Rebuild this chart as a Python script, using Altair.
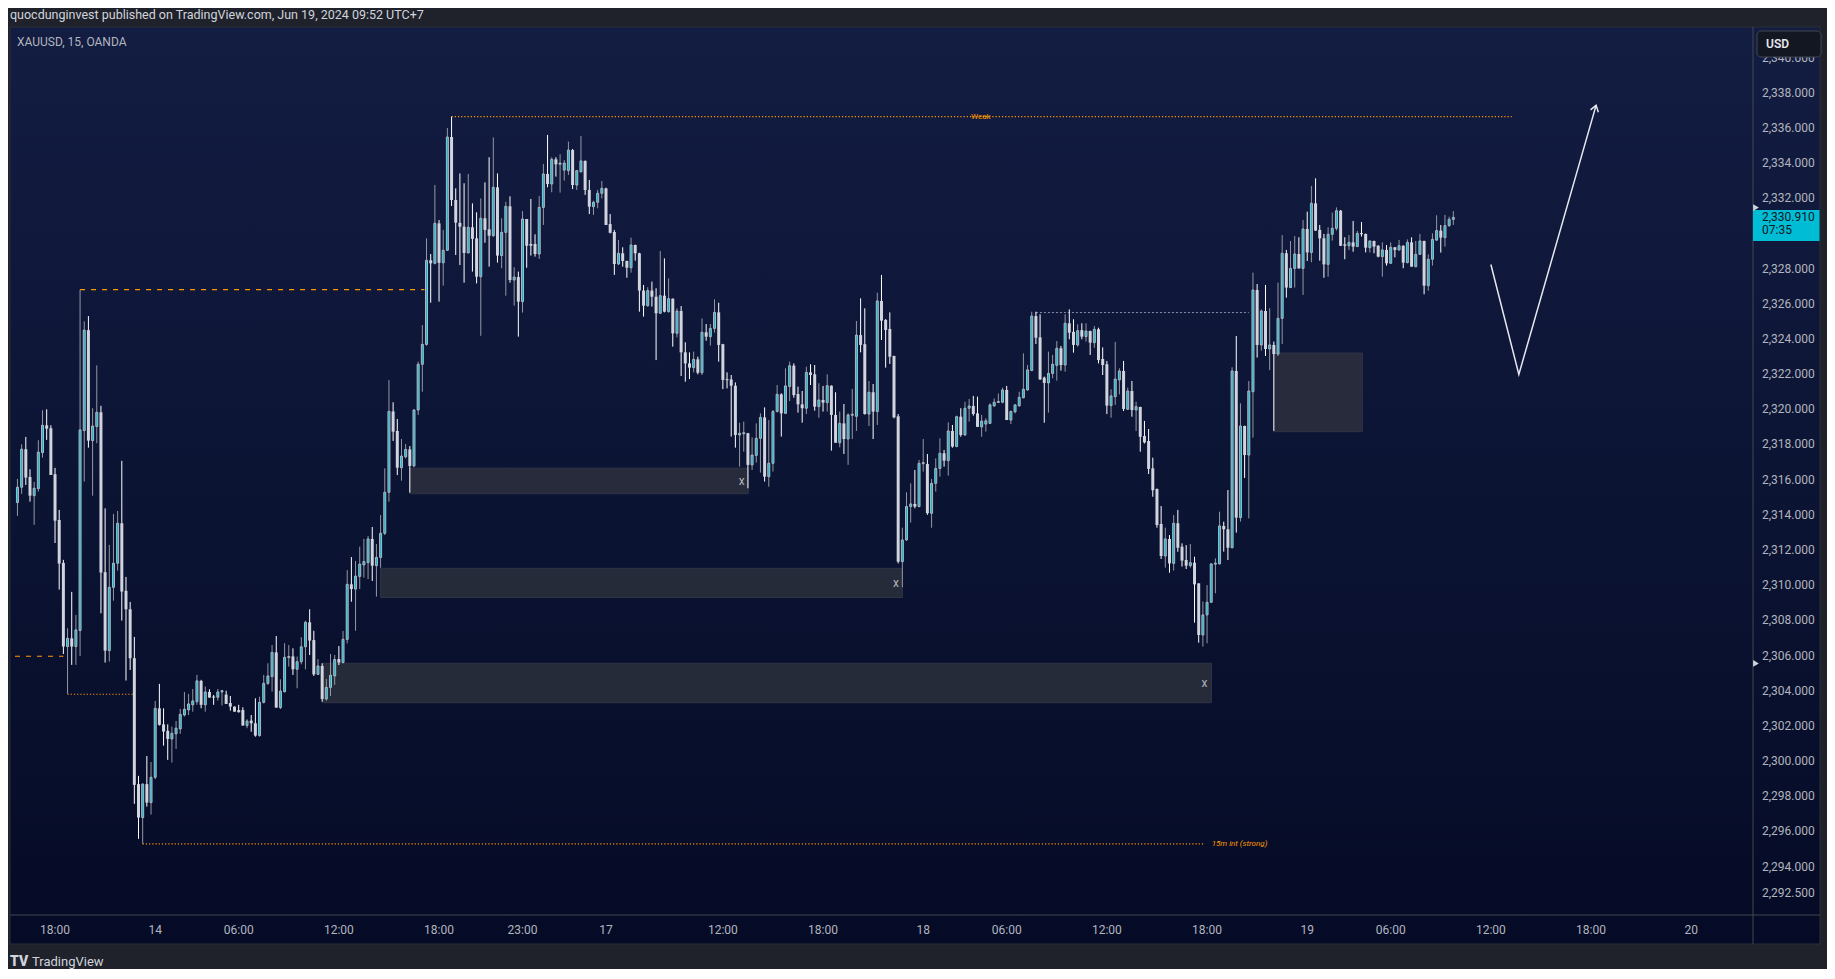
import altair as alt
import pandas as pd

# ---------------- data (15-minute bars, bar 0 = Jun 13 18:00) ----------------
FIRST_BAR = -9

opens = [
    2314.70, 2315.57, 2317.73, 2316.15, 2315.09, 2315.49, 2317.54, 2319.09, 2318.92, 2316.31,
    2313.71, 2311.27, 2306.51, 2306.98, 2306.51, 2307.42, 2318.79, 2324.50, 2318.22, 2319.02,
    2319.83, 2310.74, 2306.28, 2309.88, 2311.25, 2313.52, 2309.68, 2308.63, 2305.85, 2298.69,
    2296.79, 2298.69, 2297.64, 2299.08, 2303.00, 2302.09, 2301.72, 2301.26, 2301.55, 2301.83,
    2302.62, 2302.91, 2303.20, 2303.38, 2304.56, 2303.20, 2303.93, 2303.67, 2303.63, 2303.93,
    2303.78, 2303.30, 2303.10, 2302.90, 2302.90, 2302.02, 2302.30, 2302.15, 2301.45, 2303.34,
    2304.42, 2304.80, 2306.18, 2303.04, 2303.95, 2305.90, 2305.95, 2305.22, 2305.65, 2306.50,
    2307.89, 2306.88, 2304.93, 2305.41, 2303.53, 2304.19, 2304.84, 2305.80, 2305.60, 2306.92,
    2310.05, 2309.78, 2310.50, 2311.15, 2311.28, 2312.63, 2311.11, 2311.58, 2312.95, 2315.28,
    2319.88, 2318.77, 2316.68, 2317.30, 2317.72, 2316.78, 2319.96, 2322.56, 2323.69, 2328.47,
    2328.30, 2330.57, 2328.33, 2329.04, 2335.48, 2331.90, 2330.60, 2330.38, 2328.89, 2330.35,
    2329.72, 2327.54, 2330.86, 2330.23, 2329.87, 2332.62, 2328.74, 2330.06, 2331.54, 2327.35,
    2327.52, 2326.12, 2330.82, 2329.40, 2329.40, 2328.83, 2331.48, 2333.38, 2332.81, 2334.21,
    2333.93, 2333.60, 2333.57, 2334.74, 2332.75, 2333.50, 2334.12, 2332.47, 2331.52, 2331.77,
    2332.28, 2332.56, 2330.53, 2330.08, 2328.26, 2328.87, 2328.43, 2328.05, 2329.34, 2328.87,
    2326.75, 2325.89, 2326.75, 2326.40, 2325.46, 2326.46, 2325.55, 2326.29, 2324.32, 2325.59,
    2323.24, 2322.61, 2322.37, 2322.84, 2322.08, 2324.38, 2324.13, 2324.60, 2325.51, 2323.70,
    2321.70, 2321.70, 2321.34, 2318.54, 2318.64, 2318.64, 2316.84, 2317.38, 2318.35, 2319.54,
    2316.17, 2316.93, 2319.87, 2320.85, 2319.77, 2321.30, 2322.48, 2320.87, 2320.28, 2320.06,
    2322.10, 2321.99, 2320.15, 2320.53, 2320.38, 2321.34, 2319.68, 2318.10, 2319.20, 2318.31,
    2319.68, 2319.60, 2324.22, 2323.70, 2319.73, 2320.97, 2319.87, 2326.16, 2325.08, 2324.57,
    2323.03, 2319.60, 2311.34, 2312.57, 2314.47, 2314.62, 2314.47, 2316.93, 2316.89, 2314.09,
    2315.79, 2316.64, 2317.50, 2317.08, 2318.77, 2317.88, 2319.58, 2318.54, 2320.06, 2320.19,
    2319.77, 2319.00, 2319.16, 2319.20, 2320.19, 2320.40, 2320.40, 2321.10, 2319.39, 2319.86,
    2320.20, 2320.66, 2321.10, 2322.20, 2325.30, 2324.09, 2321.80, 2321.50, 2322.04, 2322.50,
    2323.47, 2322.52, 2324.89, 2324.40, 2323.66, 2324.50, 2324.13, 2324.45, 2323.79, 2324.55,
    2322.86, 2322.56, 2320.21, 2320.72, 2321.67, 2322.18, 2320.00, 2321.04, 2319.96, 2320.13,
    2318.48, 2318.20, 2316.64, 2315.47, 2313.48, 2311.66, 2312.63, 2311.24, 2313.52, 2312.19,
    2311.43, 2311.11, 2311.28, 2310.10, 2307.17, 2308.31, 2309.03, 2311.21, 2311.21, 2313.37,
    2313.18, 2312.13, 2322.18, 2313.84, 2319.05, 2317.40, 2321.00, 2326.78, 2323.66, 2325.59,
    2323.43, 2323.66, 2323.14, 2325.17, 2328.87, 2326.92, 2328.01, 2328.83, 2328.01, 2330.25,
    2328.92, 2331.71, 2330.20, 2329.72, 2328.24, 2329.95, 2330.29, 2331.29, 2329.38, 2329.30,
    2329.49, 2329.25, 2330.00, 2329.97, 2329.19, 2329.57, 2329.30, 2328.68, 2329.06, 2328.30,
    2329.21, 2329.06, 2329.30, 2328.34, 2329.49, 2328.11, 2328.81, 2329.57, 2327.03, 2328.53,
    2329.62, 2330.16, 2329.76, 2330.44, 2330.80,
]

highs = [
    2316.04, 2318.01, 2318.43, 2316.59, 2315.87, 2318.24, 2319.95, 2320.00, 2319.09, 2316.67,
    2314.28, 2311.44, 2307.55, 2309.62, 2308.31, 2326.80, 2325.00, 2325.30, 2320.06, 2322.50,
    2320.20, 2314.37, 2312.29, 2314.05, 2314.22, 2317.07, 2310.47, 2309.05, 2307.06, 2299.16,
    2298.74, 2300.29, 2299.95, 2303.42, 2304.39, 2303.00, 2302.09, 2301.96, 2302.28, 2302.97,
    2303.93, 2303.82, 2304.10, 2304.90, 2304.62, 2304.24, 2304.08, 2303.76, 2304.10, 2304.05,
    2304.00, 2303.70, 2303.10, 2303.20, 2303.06, 2302.38, 2302.62, 2303.57, 2303.66, 2304.90,
    2305.56, 2306.60, 2307.11, 2304.65, 2306.70, 2306.60, 2306.41, 2305.94, 2307.04, 2307.98,
    2308.63, 2307.41, 2305.80, 2305.56, 2304.67, 2306.09, 2306.03, 2306.54, 2307.40, 2310.86,
    2311.60, 2311.38, 2312.19, 2312.63, 2312.80, 2313.31, 2312.34, 2313.99, 2316.64, 2321.66,
    2320.40, 2319.45, 2318.31, 2318.03, 2317.91, 2320.00, 2322.71, 2324.79, 2329.72, 2328.83,
    2332.75, 2330.76, 2330.20, 2335.99, 2336.64, 2332.56, 2333.41, 2332.85, 2333.38, 2331.71,
    2331.20, 2331.99, 2332.90, 2334.33, 2335.46, 2333.41, 2330.86, 2331.80, 2332.11, 2328.07,
    2327.83, 2331.27, 2330.82, 2331.96, 2329.95, 2332.13, 2333.95, 2335.60, 2334.33, 2334.33,
    2334.50, 2334.17, 2335.22, 2334.80, 2333.60, 2335.54, 2334.15, 2333.04, 2331.86, 2332.47,
    2332.98, 2332.60, 2331.10, 2330.20, 2329.63, 2329.21, 2328.45, 2329.76, 2329.36, 2328.90,
    2327.07, 2326.94, 2327.26, 2326.88, 2329.00, 2328.58, 2327.45, 2326.30, 2325.74, 2325.87,
    2323.81, 2323.24, 2323.28, 2322.99, 2325.17, 2324.85, 2324.85, 2326.25, 2326.06, 2323.72,
    2322.10, 2321.95, 2321.53, 2319.24, 2319.30, 2318.66, 2318.41, 2319.20, 2319.77, 2320.11,
    2319.39, 2319.96, 2321.38, 2320.91, 2322.33, 2322.71, 2322.61, 2321.29, 2321.04, 2322.42,
    2322.56, 2322.52, 2321.48, 2321.33, 2321.99, 2321.36, 2320.97, 2319.87, 2320.30, 2319.77,
    2321.16, 2325.02, 2326.31, 2325.74, 2321.61, 2321.44, 2326.63, 2327.64, 2325.13, 2325.51,
    2323.05, 2319.73, 2313.27, 2315.28, 2315.79, 2316.55, 2317.12, 2318.31, 2317.46, 2316.04,
    2317.21, 2318.35, 2317.69, 2319.26, 2319.11, 2319.64, 2320.06, 2320.43, 2320.59, 2320.76,
    2320.72, 2319.68, 2319.49, 2320.34, 2320.62, 2320.90, 2321.23, 2321.33, 2319.92, 2320.30,
    2321.00, 2323.18, 2322.52, 2325.55, 2325.55, 2325.40, 2321.86, 2323.28, 2323.09, 2323.88,
    2323.60, 2325.40, 2325.68, 2325.12, 2324.83, 2324.89, 2324.89, 2324.47, 2324.74, 2324.64,
    2323.52, 2322.75, 2321.14, 2323.83, 2322.33, 2322.75, 2321.23, 2321.61, 2320.43, 2320.15,
    2319.34, 2318.88, 2317.25, 2315.50, 2314.50, 2313.27, 2312.85, 2313.99, 2314.28, 2312.38,
    2312.28, 2312.34, 2311.62, 2310.12, 2309.07, 2310.01, 2311.24, 2311.53, 2314.18, 2313.61,
    2315.41, 2322.39, 2324.17, 2320.34, 2319.07, 2321.61, 2327.77, 2327.12, 2325.68, 2327.07,
    2325.74, 2323.85, 2327.20, 2329.91, 2329.06, 2329.57, 2329.85, 2329.78, 2330.76, 2331.24,
    2332.70, 2333.13, 2330.48, 2329.97, 2330.35, 2331.18, 2331.48, 2331.33, 2329.78, 2329.91,
    2330.71, 2330.14, 2330.65, 2329.99, 2329.60, 2329.59, 2329.33, 2329.49, 2329.34, 2329.49,
    2329.23, 2329.63, 2329.32, 2329.66, 2329.78, 2329.57, 2329.97, 2329.59, 2328.81, 2330.00,
    2331.03, 2330.48, 2331.05, 2330.95, 2331.27,
]

lows = [
    2313.94, 2315.19, 2315.70, 2314.75, 2313.43, 2315.32, 2317.25, 2318.26, 2316.27, 2312.40,
    2309.75, 2306.09, 2303.82, 2305.47, 2305.47, 2305.98, 2315.89, 2317.82, 2315.09, 2318.07,
    2308.40, 2305.60, 2305.66, 2309.12, 2310.83, 2307.99, 2304.58, 2305.18, 2297.57, 2295.58,
    2295.29, 2297.41, 2296.96, 2298.97, 2302.02, 2300.88, 2300.07, 2299.92, 2300.69, 2301.55,
    2302.53, 2302.62, 2302.81, 2303.20, 2303.00, 2302.81, 2303.61, 2303.20, 2303.44, 2303.16,
    2303.25, 2302.87, 2302.81, 2302.76, 2302.02, 2301.87, 2301.67, 2301.39, 2301.39, 2303.28,
    2304.33, 2303.95, 2303.04, 2302.96, 2303.89, 2305.37, 2304.90, 2304.14, 2305.50, 2305.22,
    2306.03, 2304.84, 2304.90, 2303.38, 2303.43, 2303.70, 2304.33, 2305.46, 2305.56, 2306.69,
    2309.06, 2307.41, 2309.78, 2310.43, 2310.35, 2310.24, 2309.35, 2310.99, 2312.85, 2314.75,
    2318.20, 2316.26, 2315.94, 2317.21, 2315.26, 2316.70, 2319.68, 2321.00, 2323.62, 2326.06,
    2328.24, 2326.12, 2327.03, 2329.00, 2331.56, 2328.77, 2328.20, 2327.20, 2328.87, 2327.83,
    2327.16, 2324.18, 2329.47, 2328.11, 2329.80, 2328.34, 2328.02, 2326.46, 2327.20, 2325.89,
    2324.13, 2325.50, 2328.05, 2328.74, 2328.68, 2328.55, 2330.48, 2332.62, 2332.34, 2333.23,
    2332.32, 2333.00, 2333.32, 2332.52, 2332.47, 2333.47, 2332.19, 2331.10, 2331.05, 2331.43,
    2331.99, 2330.48, 2330.00, 2327.64, 2328.20, 2328.11, 2327.48, 2327.77, 2328.45, 2325.55,
    2325.27, 2325.84, 2325.84, 2322.80, 2325.42, 2325.51, 2325.50, 2323.56, 2324.09, 2321.89,
    2321.57, 2321.72, 2322.10, 2321.99, 2321.95, 2323.90, 2323.62, 2324.36, 2322.71, 2321.15,
    2321.19, 2318.45, 2317.82, 2316.74, 2317.59, 2315.51, 2316.55, 2316.97, 2316.40, 2315.89,
    2315.60, 2316.46, 2319.83, 2318.45, 2319.73, 2320.47, 2320.66, 2319.81, 2319.24, 2319.73,
    2321.38, 2319.92, 2319.52, 2319.87, 2319.87, 2317.65, 2318.10, 2317.84, 2317.46, 2316.84,
    2318.31, 2318.77, 2323.24, 2319.70, 2319.05, 2318.31, 2319.11, 2323.94, 2322.37, 2322.58,
    2319.49, 2311.24, 2309.88, 2312.53, 2313.56, 2314.37, 2314.43, 2316.46, 2314.00, 2313.27,
    2315.32, 2316.17, 2316.74, 2316.23, 2317.82, 2317.85, 2318.44, 2318.50, 2319.30, 2319.64,
    2319.00, 2318.44, 2318.73, 2319.16, 2320.15, 2320.38, 2320.34, 2319.39, 2319.16, 2319.77,
    2320.15, 2320.62, 2321.06, 2322.18, 2323.71, 2321.67, 2319.24, 2319.81, 2321.76, 2321.63,
    2322.20, 2322.14, 2323.98, 2323.22, 2323.56, 2323.98, 2323.85, 2323.09, 2323.50, 2322.61,
    2321.95, 2319.73, 2319.52, 2320.25, 2320.85, 2319.90, 2319.96, 2319.58, 2318.77, 2317.59,
    2318.06, 2316.32, 2315.03, 2313.27, 2311.49, 2311.00, 2310.71, 2310.83, 2311.90, 2311.06,
    2310.92, 2311.00, 2307.87, 2306.73, 2306.51, 2306.70, 2309.00, 2309.54, 2311.19, 2311.91,
    2311.43, 2312.10, 2312.99, 2313.61, 2316.10, 2313.80, 2318.39, 2322.94, 2323.33, 2323.03,
    2322.23, 2318.77, 2323.03, 2323.71, 2326.35, 2326.90, 2326.92, 2328.00, 2326.50, 2328.43,
    2328.36, 2330.14, 2328.45, 2327.48, 2327.54, 2329.59, 2330.16, 2329.28, 2328.53, 2329.06,
    2328.96, 2329.23, 2329.82, 2328.92, 2328.92, 2328.87, 2328.64, 2327.54, 2328.17, 2328.28,
    2328.64, 2329.02, 2328.02, 2328.30, 2328.11, 2328.07, 2328.78, 2326.54, 2326.74, 2328.17,
    2329.57, 2328.91, 2329.25, 2330.38, 2330.48,
]

closes = [
    2315.57, 2317.73, 2316.12, 2315.09, 2315.51, 2317.56, 2319.09, 2318.90, 2316.27, 2313.67,
    2311.23, 2306.51, 2306.98, 2306.51, 2307.46, 2318.83, 2324.50, 2318.22, 2319.05, 2319.83,
    2310.72, 2306.28, 2309.88, 2311.25, 2313.52, 2309.64, 2308.63, 2305.85, 2298.65, 2296.79,
    2298.69, 2297.64, 2299.08, 2303.00, 2302.06, 2301.68, 2301.26, 2301.58, 2301.87, 2302.66,
    2302.95, 2303.25, 2303.42, 2304.56, 2303.20, 2303.93, 2303.61, 2303.61, 2303.93, 2304.00,
    2303.25, 2303.10, 2302.81, 2302.78, 2302.02, 2302.28, 2302.15, 2301.45, 2303.34, 2304.42,
    2304.84, 2306.18, 2303.04, 2303.98, 2305.90, 2305.93, 2305.22, 2305.65, 2306.50, 2307.89,
    2306.85, 2304.93, 2305.41, 2303.53, 2304.19, 2304.88, 2305.78, 2305.60, 2306.92, 2310.05,
    2309.78, 2310.52, 2311.20, 2311.34, 2312.63, 2311.11, 2311.58, 2312.95, 2315.28, 2319.88,
    2318.73, 2316.68, 2317.34, 2317.72, 2316.78, 2319.96, 2322.56, 2323.69, 2328.47, 2328.30,
    2330.57, 2328.33, 2329.04, 2335.48, 2331.90, 2330.61, 2330.38, 2328.89, 2330.35, 2329.69,
    2327.54, 2330.86, 2330.20, 2329.87, 2332.62, 2328.74, 2330.06, 2331.54, 2327.35, 2327.52,
    2326.12, 2330.82, 2329.30, 2329.30, 2328.83, 2331.48, 2333.38, 2332.81, 2334.21, 2333.93,
    2334.00, 2334.00, 2334.74, 2332.75, 2333.57, 2334.12, 2332.47, 2331.52, 2331.77, 2332.28,
    2332.56, 2330.48, 2330.04, 2328.26, 2328.87, 2328.43, 2328.05, 2329.34, 2328.87, 2326.75,
    2325.89, 2326.75, 2326.40, 2325.46, 2326.46, 2325.55, 2326.29, 2324.32, 2325.59, 2323.24,
    2322.61, 2322.37, 2322.84, 2322.08, 2324.38, 2324.13, 2324.60, 2325.51, 2323.66, 2321.67,
    2321.67, 2321.34, 2318.54, 2318.64, 2318.64, 2316.84, 2317.40, 2318.35, 2319.54, 2316.17,
    2316.93, 2319.87, 2320.85, 2319.77, 2321.33, 2322.48, 2320.81, 2320.28, 2320.06, 2322.10,
    2321.95, 2320.15, 2320.53, 2320.38, 2321.34, 2319.68, 2318.10, 2319.20, 2318.31, 2319.68,
    2319.70, 2324.22, 2323.66, 2319.73, 2320.97, 2319.87, 2326.16, 2325.04, 2324.51, 2322.99,
    2319.54, 2311.34, 2312.57, 2314.47, 2314.62, 2314.47, 2316.93, 2316.95, 2314.09, 2315.79,
    2316.64, 2317.50, 2317.08, 2318.77, 2317.88, 2319.58, 2318.54, 2320.06, 2320.19, 2319.73,
    2319.00, 2319.33, 2319.35, 2320.25, 2320.40, 2320.43, 2321.10, 2319.39, 2319.88, 2320.25,
    2320.68, 2321.14, 2322.24, 2325.30, 2324.07, 2321.70, 2321.50, 2322.04, 2322.56, 2323.47,
    2322.52, 2324.89, 2324.36, 2323.66, 2324.47, 2324.13, 2324.45, 2323.79, 2324.55, 2322.80,
    2322.52, 2320.21, 2320.76, 2321.72, 2322.18, 2320.02, 2321.04, 2319.96, 2320.15, 2318.44,
    2318.12, 2316.61, 2315.40, 2313.42, 2311.66, 2312.63, 2311.24, 2313.52, 2312.13, 2311.40,
    2311.11, 2311.28, 2310.05, 2307.17, 2308.31, 2309.03, 2311.21, 2311.24, 2313.37, 2313.18,
    2312.13, 2322.18, 2313.84, 2319.05, 2317.40, 2321.04, 2326.78, 2323.66, 2325.59, 2323.43,
    2323.66, 2323.14, 2325.17, 2328.87, 2326.92, 2328.01, 2328.83, 2328.01, 2330.25, 2328.92,
    2331.71, 2330.16, 2329.72, 2328.24, 2329.95, 2330.29, 2331.29, 2329.30, 2329.30, 2329.49,
    2329.25, 2330.00, 2329.97, 2329.19, 2329.57, 2329.25, 2328.68, 2329.06, 2328.30, 2329.21,
    2329.06, 2329.30, 2328.34, 2329.49, 2328.11, 2328.81, 2329.57, 2327.03, 2328.53, 2329.66,
    2330.16, 2329.76, 2330.44, 2330.80, 2330.91,
]

# time axis: bar index of each label and its text
tick_pos = [0, 24, 44, 68, 92, 112, 132, 160, 184, 208, 228, 252, 276, 300, 320, 344, 368, 392]
tick_lab = ["18:00", "14", "06:00", "12:00", "18:00", "23:00", "17", "12:00", "18:00",
            "18", "06:00", "12:00", "18:00", "19", "06:00", "12:00", "18:00", "20"]

# price axis labels (2,330 is hidden by the last-price tag; 2,340 sits under the USD box)
price_ticks = [2292.5, 2294, 2296, 2298, 2300, 2302, 2304, 2306, 2308, 2310, 2312, 2314,
               2316, 2318, 2320, 2322, 2324, 2326, 2328, 2332, 2334, 2336, 2338, 2340]

# supply / demand boxes (bar index from-to, price from-to)
zone_x1 = [85, 78, 64, 292]
zone_x2 = [166.1, 203.0, 277.05, 313.2]
zone_y1 = [2315.20, 2309.30, 2303.32, 2318.73]
zone_y2 = [2316.65, 2310.96, 2305.56, 2323.20]
# "x" marks on mitigated boxes
xmark_x = [164.5, 201.5, 275.4]
xmark_y = [2315.93, 2310.13, 2304.44]

# structure levels
dot_x1 = [95, 21, 3]
dot_x2 = [349, 275.2, 18.6]
dot_y = [2336.64, 2295.29, 2303.80]
dash_x1 = [6, -9.59]
dash_x2 = [88.5, 2]
dash_y = [2326.80, 2305.96]
gray_x1 = [235]
gray_x2 = [286]
gray_y = [2325.50]

# projected path drawn on the chart
arrow_x = [344.0, 350.7, 369.2]
arrow_y = [2328.23, 2321.98, 2337.28]

# ---------------- styling constants ----------------
FRAME = "#1f222b"
UP = "#00bcd4"
UP_EDGE = "#b2b5be"
DOWN = "#d1d4dc"
ORANGE = "#ff9800"
LABEL = "#b2b5be"
FONT = "Roboto"

W, H = 1743, 888
XD = [-9.59, 405.6]
YD = [2291.25, 2341.735]
xs = alt.Scale(domain=XD, nice=False, zero=False)
ys = alt.Scale(domain=YD, nice=False, zero=False)


def X(f):
    return alt.X(f, type="quantitative", scale=xs, axis=None)


def Y(f):
    return alt.Y(f, type="quantitative", scale=ys, axis=None)


# ---------------- frames ----------------
n = len(closes)
bars = pd.DataFrame({
    "i": list(range(FIRST_BAR, FIRST_BAR + n)),
    "o": opens, "h": highs, "l": lows, "c": closes,
})
bars["up"] = bars["c"] >= bars["o"]
mid = (bars["o"] + bars["c"]) / 2
top = bars[["o", "c"]].max(axis=1)
bot = bars[["o", "c"]].min(axis=1)
thin = (top - bot) < 0.06
top[thin] = mid[thin] + 0.03
bot[thin] = mid[thin] - 0.03
bars["bt"] = top
bars["bb"] = bot
up_df = bars[bars["up"]]
dn_df = bars[~bars["up"]]

one = pd.DataFrame({"k": [0]})

# ---------------- layers ----------------
bg = alt.Chart(one).mark_rect(
    color=alt.LinearGradient(
        gradient="linear",
        stops=[alt.GradientStop(color="#131d42", offset=0),
               alt.GradientStop(color="#050b26", offset=1)],
        x1=0, x2=0, y1=0, y2=1),
    stroke="#2a2e39", strokeWidth=1,
).encode(x=alt.value(0), x2=alt.value(1810), y=alt.value(0), y2=alt.value(917))

# time-axis labels, placed through the x scale
xlab = alt.Chart(pd.DataFrame({"p": tick_pos, "t": tick_lab})).mark_text(
    color=LABEL, font=FONT, fontSize=12, align="center", baseline="middle"
).encode(x=X("p"), y=alt.value(H + 15), text="t:N")

# price-axis labels, placed through the y scale
ylab = alt.Chart(pd.DataFrame({"v": price_ticks,
                               "t": [f"{v:,.3f}" for v in price_ticks]})).mark_text(
    color=LABEL, font=FONT, fontSize=12, align="left", baseline="middle"
).encode(x=alt.value(W + 9), y=Y("v"), text="t:N")

zones = alt.Chart(pd.DataFrame({"x1": zone_x1, "x2": zone_x2, "y1": zone_y1, "y2": zone_y2})).mark_rect(
    fill="#2a2e3c", opacity=0.9, stroke="#343848", strokeWidth=1
).encode(x=X("x1"), x2="x2", y=Y("y1"), y2="y2")

dotted = alt.Chart(pd.DataFrame({"x1": dot_x1, "x2": dot_x2, "y": dot_y})).mark_rule(
    color=ORANGE, strokeWidth=1.2, strokeDash=[1.2, 2]
).encode(x=X("x1"), x2="x2", y=Y("y"))

dashed = alt.Chart(pd.DataFrame({"x1": dash_x1, "x2": dash_x2, "y": dash_y})).mark_rule(
    color=ORANGE, strokeWidth=1.2, strokeDash=[5, 6]
).encode(x=X("x1"), x2="x2", y=Y("y"))

grayline = alt.Chart(pd.DataFrame({"x1": gray_x1, "x2": gray_x2, "y": gray_y})).mark_rule(
    color="#8c8fb0", strokeWidth=1, strokeDash=[2, 2]
).encode(x=X("x1"), x2="x2", y=Y("y"))

wick_up = alt.Chart(up_df).mark_rule(color="#9598a1", strokeWidth=1).encode(
    x=X("i"), y=Y("l"), y2="h")
wick_dn = alt.Chart(dn_df).mark_rule(color="#ffffff", strokeWidth=1).encode(
    x=X("i"), y=Y("l"), y2="h")
body_up = alt.Chart(up_df).mark_bar(size=2, fill=UP, stroke=UP_EDGE, strokeWidth=1).encode(
    x=X("i"), y=Y("bb"), y2="bt")
body_dn = alt.Chart(dn_df).mark_bar(size=3, fill=DOWN, strokeWidth=0).encode(
    x=X("i"), y=Y("bb"), y2="bt")

xmarks = alt.Chart(pd.DataFrame({"x": xmark_x, "y": xmark_y, "t": ["x"] * 3})).mark_text(
    color=LABEL, font=FONT, fontSize=12, baseline="middle", align="center"
).encode(x=X("x"), y=Y("y"), text="t:N")

weak_lbl = alt.Chart(pd.DataFrame({"x": [221.8], "y": [2336.64], "t": ["Weak"]})).mark_text(
    color=ORANGE, font=FONT, fontSize=8, baseline="middle", align="center"
).encode(x=X("x"), y=Y("y"), text="t:N")

strong_lbl = alt.Chart(pd.DataFrame({"x": [277.1], "y": [2295.29], "t": ["15m int (strong)"]})).mark_text(
    color=ORANGE, font=FONT, fontSize=8, fontStyle="italic", baseline="middle", align="left"
).encode(x=X("x"), y=Y("y"), text="t:N")

arrow_df = pd.DataFrame({"x": arrow_x, "y": arrow_y, "o": list(range(len(arrow_x)))})
arrow = alt.Chart(arrow_df).mark_line(color="#e6e8ee", strokeWidth=1.5).encode(
    x=X("x"), y=Y("y"), order="o:Q")
head = alt.Chart(arrow_df.tail(1)).mark_point(
    shape="M -0.55 0.8 L 0 0 L 0.55 0.8", filled=False, stroke="#e6e8ee",
    strokeWidth=1.5, size=220, angle=16, opacity=1
).encode(x=X("x"), y=Y("y"))

# separators between chart pane and the axes
seps = alt.Chart(one).mark_rule(color="#434651", strokeWidth=1).encode(
    x=alt.value(W), y=alt.value(0), y2=alt.value(917))
seph = alt.Chart(one).mark_rule(color="#434651", strokeWidth=1).encode(
    x=alt.value(0), x2=alt.value(1810), y=alt.value(H))

last = pd.DataFrame({"c": [closes[-1]], "top": [closes[-1] + 0.42], "bot": [closes[-1] - 1.34],
                     "t": [f"{closes[-1]:,.3f}"], "cd": ["07:35"]})
tag = alt.Chart(last).mark_rect(fill=UP).encode(
    x=alt.value(W), x2=alt.value(1809.5), y=Y("top"), y2="bot")
tag_txt = alt.Chart(last).mark_text(
    color="#131722", font=FONT, fontSize=12, align="left", baseline="middle"
).encode(x=alt.value(W + 9), y=Y("c"), text="t:N")
tag_cd = alt.Chart(last).mark_text(
    color="#131722", font=FONT, fontSize=12, align="left", baseline="middle", dy=13
).encode(x=alt.value(W + 9), y=Y("c"), text="cd:N")

tri = alt.Chart(pd.DataFrame({"y": [2331.47, 2305.55]})).mark_point(
    shape="triangle-right", filled=True, color="#d1d4dc", size=45, opacity=1
).encode(x=alt.value(W + 3), y=Y("y"))

usd_box = alt.Chart(one).mark_rect(
    fill="#131722", stroke="#434651", strokeWidth=1, cornerRadius=4
).encode(x=alt.value(1747), x2=alt.value(1811), y=alt.value(4), y2=alt.value(30))
usd_txt = alt.Chart(pd.DataFrame({"t": ["USD"]})).mark_text(
    color="#e6e8ee", font=FONT, fontSize=12, fontWeight=600, align="left", baseline="middle"
).encode(x=alt.value(1756), y=alt.value(17), text="t:N")

header = alt.Chart(pd.DataFrame({"t": ["quocdunginvest published on TradingView.com, Jun 19, 2024 09:52 UTC+7"]})).mark_text(
    color="#d1d4dc", font=FONT, fontSize=12.5, align="left", baseline="middle"
).encode(x=alt.value(0), y=alt.value(-12), text="t:N")

symbol = alt.Chart(pd.DataFrame({"t": ["XAUUSD, 15, OANDA"]})).mark_text(
    color=LABEL, font=FONT, fontSize=12, align="left", baseline="middle"
).encode(x=alt.value(7), y=alt.value(14.5), text="t:N")

logo = alt.Chart(pd.DataFrame({"t": ["TV"]})).mark_text(
    color="#d1d4dc", font=FONT, fontSize=14, fontWeight=900, align="left", baseline="middle"
).encode(x=alt.value(0), y=alt.value(935), text="t:N")
brand = alt.Chart(pd.DataFrame({"t": ["TradingView"]})).mark_text(
    color="#d1d4dc", font=FONT, fontSize=13, align="left", baseline="middle"
).encode(x=alt.value(22), y=alt.value(935), text="t:N")

chart = alt.layer(
    bg, zones, dotted, dashed, grayline,
    wick_up, wick_dn, body_up, body_dn,
    xmarks, weak_lbl, strong_lbl, arrow, head,
    seps, seph, xlab, ylab, tag, tag_txt, tag_cd, tri, usd_box, usd_txt,
    header, symbol, logo, brand,
).properties(
    width=W, height=H,
    padding={"left": 2, "top": 19, "right": 74, "bottom": 54},
    autosize=alt.AutoSizeParams(type="none"),
    background=FRAME,
).configure_view(stroke=None)

chart.save("out.html", embed_options={"renderer": "svg", "actions": False})
